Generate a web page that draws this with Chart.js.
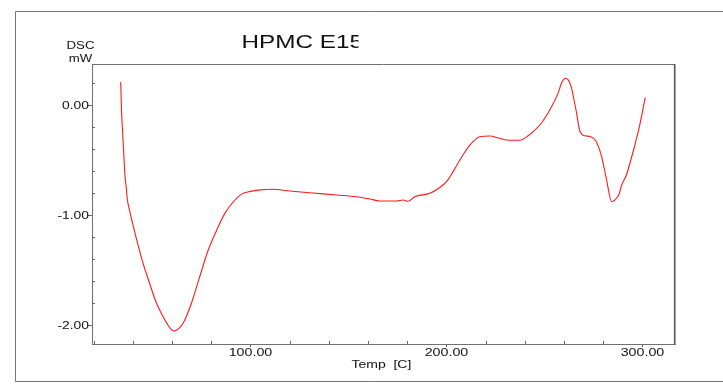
<!DOCTYPE html>
<html>
<head>
<meta charset="utf-8">
<script src="https://cdn.jsdelivr.net/npm/chart.js@4"></script>
<style>
  html, body { margin: 0; padding: 0; background: #fff; }
  canvas { display: block; }
</style>
</head>
<body>
<canvas id="dsc" width="723" height="387"></canvas>
<script>
// DSC thermogram of HPMC E15: temperature (C) and heat flow (mW)
const temperatures = [
  33.8, 34.2, 34.8, 35.2, 35.9, 36.7, 37.1, 38.7, 41.0, 45.2, 48.5, 52.0, 55.4, 57.5,
  60.9, 63.5, 65.6, 69.9, 74.1, 78.4, 82.7, 86.9, 91.5, 95.5, 100.0, 105.0, 110.7,
  120.1, 131.9, 143.9, 154.1, 160.9, 166.0, 174.5, 177.9, 180.4, 183.8, 191.5, 196.6,
  200.0, 203.4, 206.8, 211.9, 217.0, 222.1, 227.2, 230.6, 237.4, 241.5, 247.6, 252.7,
  256.9, 258.7, 260.6, 262.7, 264.0, 264.8, 266.3, 268.0, 270.6, 273.6, 276.2, 279.1,
  281.6, 284.3, 285.9, 288.1, 289.4, 291.8, 295.2, 298.6, 301.4
];
const heatFlow = [
  0.21, -0.06, -0.26, -0.40, -0.63, -0.77, -0.85, -0.99, -1.16, -1.44, -1.62, -1.80, -1.925, -1.99,
  -2.055, -2.03, -1.985, -1.80, -1.56, -1.32, -1.14, -0.985, -0.875, -0.81, -0.785, -0.772, -0.766,
  -0.782, -0.80, -0.818, -0.834, -0.855, -0.873, -0.873, -0.864, -0.875, -0.834, -0.803, -0.75,
  -0.697, -0.606, -0.50, -0.364, -0.288, -0.282, -0.303, -0.318, -0.321, -0.282, -0.182, -0.045,
  0.106, 0.20, 0.243, 0.212, 0.14, 0.07, -0.064, -0.236, -0.279, -0.288, -0.327, -0.464,
  -0.673, -0.879, -0.864, -0.809, -0.727, -0.636, -0.425, -0.182, 0.068
];

// Axis ticks and their labels
const xMajorTicks = [100, 200, 300];
const xMajorLabels = ['100.00', '200.00', '300.00'];
const xMinorTicks = [20, 40, 60, 80, 120, 140, 160, 180, 220, 240, 260, 280];
const yMajorTicks = [0, -1, -2];
const yMajorLabels = ['0.00', '-1.00', '-2.00'];
const yMinorTicks = [0.2, -0.2, -0.4, -0.6, -0.8, -1.2, -1.4, -1.6, -1.8];

const chartTitle = 'HPMC E15';
const yAxisTitle = ['DSC', 'mW'];
const xAxisTitle = 'Temp  [C]';

const FONT = '"Liberation Sans", Arial, sans-serif';

function wideText(ctx, text, x, y, size, align, stretch = 1.32) {
  ctx.save();
  ctx.translate(x, y);
  ctx.scale(stretch, 1);
  ctx.font = size + 'px ' + FONT;
  ctx.textAlign = align;
  ctx.textBaseline = 'alphabetic';
  ctx.fillStyle = '#111';
  ctx.fillText(text, 0, 0);
  ctx.restore();
}

const decorations = {
  id: 'decorations',
  afterDraw(chart) {
    const ctx = chart.ctx;
    const a = chart.chartArea;
    const xs = chart.scales.x, ys = chart.scales.y;

    ctx.save();
    // outer frame
    ctx.strokeStyle = '#777';
    ctx.lineWidth = 1;
    ctx.beginPath();
    ctx.moveTo(723, 11.5); ctx.lineTo(15.5, 11.5); ctx.lineTo(15.5, 381.5); ctx.lineTo(723, 381.5);
    ctx.stroke();

    // plot box top and right
    ctx.strokeStyle = '#707070';
    ctx.beginPath();
    ctx.moveTo(a.left, a.top + 0.5); ctx.lineTo(a.right, a.top + 0.5);
    ctx.stroke();
    ctx.strokeStyle = '#555';
    ctx.lineWidth = 1.6;
    ctx.beginPath();
    ctx.moveTo(a.right - 0.3, a.top); ctx.lineTo(a.right - 0.3, a.bottom);
    ctx.stroke();

    // tick marks: majors outside, minors inside
    ctx.strokeStyle = '#666';
    ctx.lineWidth = 1;
    ctx.beginPath();
    yMajorTicks.forEach(v => {
      const p = Math.round(ys.getPixelForValue(v)) + 0.5;
      ctx.moveTo(a.left - 4, p); ctx.lineTo(a.left, p);
    });
    yMinorTicks.forEach(v => {
      const p = Math.round(ys.getPixelForValue(v)) + 0.5;
      ctx.moveTo(a.left, p); ctx.lineTo(a.left + 3, p);
    });
    xMajorTicks.forEach(v => {
      const p = Math.round(xs.getPixelForValue(v)) + 0.5;
      ctx.moveTo(p, a.bottom); ctx.lineTo(p, a.bottom + 3);
    });
    xMinorTicks.forEach(v => {
      const p = Math.round(xs.getPixelForValue(v)) + 0.5;
      ctx.moveTo(p, a.bottom); ctx.lineTo(p, a.bottom - 3);
    });
    ctx.stroke();
    ctx.restore();

    // tick labels
    yMajorTicks.forEach((v, i) => {
      wideText(ctx, yMajorLabels[i], a.left - 3, ys.getPixelForValue(v) + 4, 10.5, 'right');
    });
    xMajorTicks.forEach((v, i) => {
      wideText(ctx, xMajorLabels[i], xs.getPixelForValue(v), 355.7, 10.8, 'center');
    });

    // axis titles
    wideText(ctx, yAxisTitle[0], 80.5, 48.7, 10, 'center');
    wideText(ctx, yAxisTitle[1], 80.5, 61.7, 10, 'center');
    wideText(ctx, xAxisTitle, 351.5, 368.3, 10.6, 'left');

    // chart title, cut off at its right edge
    ctx.save();
    ctx.beginPath();
    ctx.rect(0, 0, 358.5, 64);
    ctx.clip();
    wideText(ctx, chartTitle, 241.5, 47.5, 17.6, 'left', 1.38);
    ctx.restore();
  }
};

new Chart(document.getElementById('dsc'), {
  type: 'line',
  data: {
    datasets: [{
      data: temperatures.map((t, i) => ({ x: t, y: heatFlow[i] })),
      borderColor: '#ff1a1a',
      borderWidth: 1.1,
      pointRadius: 0,
      cubicInterpolationMode: 'monotone',
      fill: false
    }]
  },
  options: {
    responsive: false,
    animation: false,
    events: [],
    layout: { padding: { top: 64, right: 48, bottom: 0, left: 0 } },
    plugins: { legend: { display: false }, tooltip: { enabled: false }, title: { display: false } },
    scales: {
      x: {
        type: 'linear',
        min: 19.13,
        max: 316.6,
        afterBuildTicks: s => { s.ticks = [...xMinorTicks, ...xMajorTicks].sort((p, q) => p - q).map(v => ({ value: v })); },
        afterFit: s => { s.height = 43; },
        ticks: { display: false },
        grid: { display: true, drawOnChartArea: false, drawTicks: false },
        border: { display: true, color: '#707070', width: 1 }
      },
      y: {
        type: 'linear',
        min: -2.1727,
        max: 0.3727,
        afterBuildTicks: s => { s.ticks = [...yMinorTicks, ...yMajorTicks].sort((p, q) => p - q).map(v => ({ value: v })); },
        afterFit: s => { s.width = 92; },
        ticks: { display: false },
        grid: { display: true, drawOnChartArea: false, drawTicks: false },
        border: { display: true, color: '#707070', width: 1 }
      }
    }
  },
  plugins: [decorations]
});
</script>
</body>
</html>
